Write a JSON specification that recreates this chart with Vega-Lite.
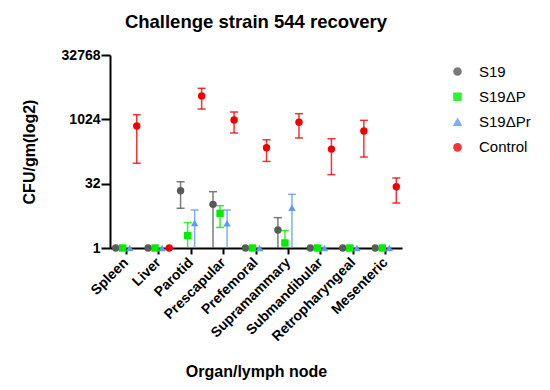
{
  "$schema": "https://vega.github.io/schema/vega-lite/v6.json",
  "autosize": {"type": "none"},
  "width": 292,
  "height": 193,
  "padding": {"left": 110, "top": 55, "right": 148, "bottom": 142},
  "title": {"text": "Challenge strain 544 recovery", "font": "Liberation Sans", "fontSize": 18.5, "fontWeight": "bold", "color": "#000000", "anchor": "middle", "offset": 17, "dx": 0},
  "config": {"view": {"stroke": null}, "font": "Liberation Sans"},
  "data": {"values": [
    {"organ": "Spleen", "strain": "S19", "mean": 1, "lo": null, "hi": null},
    {"organ": "Spleen", "strain": "S19ΔP", "mean": 1, "lo": null, "hi": null},
    {"organ": "Spleen", "strain": "S19ΔPr", "mean": 1, "lo": null, "hi": null},
    {"organ": "Spleen", "strain": "Control", "mean": 714, "lo": 96, "hi": 1314},
    {"organ": "Liver", "strain": "S19", "mean": 1, "lo": null, "hi": null},
    {"organ": "Liver", "strain": "S19ΔP", "mean": 1, "lo": null, "hi": null},
    {"organ": "Liver", "strain": "S19ΔPr", "mean": 1, "lo": null, "hi": null},
    {"organ": "Liver", "strain": "Control", "mean": 1, "lo": null, "hi": null},
    {"organ": "Parotid", "strain": "S19", "mean": 21.9, "lo": 8.5, "hi": 35.5},
    {"organ": "Parotid", "strain": "S19ΔP", "mean": 1.95, "lo": 0.5, "hi": 3.92},
    {"organ": "Parotid", "strain": "S19ΔPr", "mean": 3.84, "lo": 0.5, "hi": 7.73},
    {"organ": "Parotid", "strain": "Control", "mean": 3590, "lo": 1783, "hi": 5442},
    {"organ": "Prescapular", "strain": "S19", "mean": 10.5, "lo": 0.5, "hi": 20.8},
    {"organ": "Prescapular", "strain": "S19ΔP", "mean": 6.45, "lo": 3.03, "hi": 9.78},
    {"organ": "Prescapular", "strain": "S19ΔPr", "mean": 3.78, "lo": 0.5, "hi": 7.73},
    {"organ": "Prescapular", "strain": "Control", "mean": 989, "lo": 491, "hi": 1520},
    {"organ": "Prefemoral", "strain": "S19", "mean": 1, "lo": null, "hi": null},
    {"organ": "Prefemoral", "strain": "S19ΔP", "mean": 1, "lo": null, "hi": null},
    {"organ": "Prefemoral", "strain": "S19ΔPr", "mean": 1, "lo": null, "hi": null},
    {"organ": "Prefemoral", "strain": "Control", "mean": 221, "lo": 106, "hi": 340},
    {"organ": "Supramammary", "strain": "S19", "mean": 2.64, "lo": 0.5, "hi": 5.13},
    {"organ": "Supramammary", "strain": "S19ΔP", "mean": 1.31, "lo": 0.5, "hi": 2.55},
    {"organ": "Supramammary", "strain": "S19ΔPr", "mean": 8.75, "lo": 0.5, "hi": 18.0},
    {"organ": "Supramammary", "strain": "Control", "mean": 873, "lo": 375, "hi": 1389},
    {"organ": "Submandibular", "strain": "S19", "mean": 1, "lo": null, "hi": null},
    {"organ": "Submandibular", "strain": "S19ΔP", "mean": 1, "lo": null, "hi": null},
    {"organ": "Submandibular", "strain": "S19ΔPr", "mean": 1, "lo": null, "hi": null},
    {"organ": "Submandibular", "strain": "Control", "mean": 206, "lo": 52, "hi": 360},
    {"organ": "Retropharyngeal", "strain": "S19", "mean": 1, "lo": null, "hi": null},
    {"organ": "Retropharyngeal", "strain": "S19ΔP", "mean": 1, "lo": null, "hi": null},
    {"organ": "Retropharyngeal", "strain": "S19ΔPr", "mean": 1, "lo": null, "hi": null},
    {"organ": "Retropharyngeal", "strain": "Control", "mean": 545, "lo": 134, "hi": 969},
    {"organ": "Mesenteric", "strain": "S19", "mean": 1, "lo": null, "hi": null},
    {"organ": "Mesenteric", "strain": "S19ΔP", "mean": 1, "lo": null, "hi": null},
    {"organ": "Mesenteric", "strain": "S19ΔPr", "mean": 1, "lo": null, "hi": null},
    {"organ": "Mesenteric", "strain": "Control", "mean": 27.1, "lo": 11.3, "hi": 43.4}
  ]},
  "encoding": {
    "x": {"field": "organ", "type": "nominal",
      "sort": ["Spleen", "Liver", "Parotid", "Prescapular", "Prefemoral", "Supramammary", "Submandibular", "Retropharyngeal", "Mesenteric"],
      "scale": {"paddingInner": 0, "paddingOuter": 0},
      "axis": {"title": "Organ/lymph node", "titleFont": "Liberation Sans", "titleFontSize": 16, "titleFontWeight": "bold", "titleColor": "#000", "titlePadding": 20,
        "labelAngle": -45, "labelAlign": "right", "labelBaseline": "middle", "labelFontSize": 14, "labelFontWeight": "bold", "labelColor": "#000", "labelPadding": 6,
        "domainColor": "#000", "domainWidth": 2, "tickColor": "#000", "tickWidth": 2, "tickSize": 6, "grid": false}},
    "xOffset": {"field": "strain", "type": "nominal", "sort": ["S19", "S19ΔP", "S19ΔPr", "Control"], "scale": {"paddingInner": 0, "paddingOuter": 0.31}},
    "color": {"field": "strain", "type": "nominal", "sort": ["S19", "S19ΔP", "S19ΔPr", "Control"],
      "scale": {"domain": ["S19", "S19ΔP", "S19ΔPr", "Control"], "range": ["#5a5a5a", "#00ee00", "#5b9cf2", "#f20000"]},
      "legend": {"title": null, "orient": "none", "legendX": 340, "legendY": 9, "labelFontSize": 15, "labelColor": "#000", "symbolSize": 50, "rowPadding": 9.3, "labelOffset": 14}}
  },
  "layer": [
    {
      "transform": [{"filter": "datum.hi != null"}],
      "mark": {"type": "rule", "clip": true, "strokeWidth": 1.5, "opacity": 0.8},
      "encoding": {
        "y": {"field": "lo", "type": "quantitative"},
        "y2": {"field": "hi"}
      }
    },
    {
      "transform": [{"filter": "datum.hi != null"}],
      "mark": {"type": "tick", "clip": true, "size": 8, "thickness": 1.5, "opacity": 0.8},
      "encoding": {"y": {"field": "hi", "type": "quantitative"}}
    },
    {
      "transform": [{"filter": "datum.hi != null"}],
      "mark": {"type": "tick", "clip": true, "size": 8, "thickness": 1.5, "opacity": 0.8},
      "encoding": {"y": {"field": "lo", "type": "quantitative"}}
    },
    {
      "mark": {"type": "point", "filled": true, "opacity": 1, "size": 55},
      "encoding": {
        "y": {"field": "mean", "type": "quantitative",
          "scale": {"type": "log", "base": 2, "domain": [1, 32768]},
          "axis": {"title": "CFU/gm(log2)", "titleFont": "Liberation Sans", "titleFontSize": 16, "titleFontWeight": "bold", "titleColor": "#000", "titlePadding": 24,
            "values": [1, 32, 1024, 32768], "labelFontSize": 14, "labelFontWeight": "bold", "labelColor": "#000", "labelPadding": 1,
            "domainColor": "#000", "domainWidth": 2, "tickColor": "#000", "tickWidth": 2, "tickSize": 9, "grid": false, "format": "d"}},
        "shape": {"field": "strain", "type": "nominal",
          "scale": {"domain": ["S19", "S19ΔP", "S19ΔPr", "Control"], "range": ["circle", "square", "triangle-up", "circle"]},
          "legend": null}
      }
    }
  ]
}
